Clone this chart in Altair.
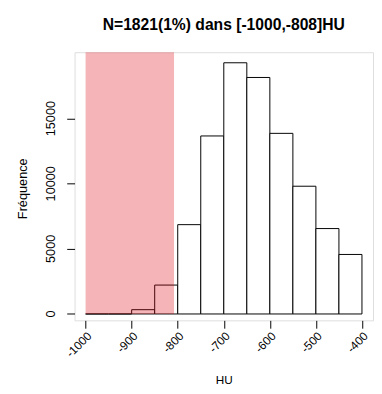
import altair as alt
import pandas as pd

# Histogram bins (HU) and counts
bin_start = [-1000, -950, -900, -850, -800, -750, -700, -650, -600, -550, -500, -450]
bin_end = [-950, -900, -850, -800, -750, -700, -650, -600, -550, -500, -450, -400]
counts = [0, 0, 330, 2220, 6860, 13670, 19290, 18160, 13870, 9810, 6560, 4570]

x_ticks = [-1000, -900, -800, -700, -600, -500, -400]
y_ticks = [0, 5000, 10000, 15000]
y_labels = ["0", "5000", "10000", "15000"]
zone_lo = [-1000]
zone_hi = [-808]
title_text = "N=1821(1%) dans [-1000,-808]HU"

X_DOMAIN = [-1024, -376]
Y_DOMAIN = [-490, 20100]
FONT = "Liberation Sans"

df = pd.DataFrame({"start": bin_start, "end": bin_end, "count": counts})
zdf = pd.DataFrame({"x1": zone_lo, "x2": zone_hi, "y1": [0], "y2": [Y_DOMAIN[1]]})
ldf = pd.DataFrame({"count": y_ticks, "lab": y_labels})

xs = alt.Scale(domain=X_DOMAIN, nice=False, zero=False)
ys = alt.Scale(domain=Y_DOMAIN, nice=False, zero=False)

x_axis = alt.Axis(
    values=x_ticks, labelExpr="'' + datum.value", labelAngle=315, labelAlign="right",
    labelBaseline="top", labelPadding=2, tickSize=8, tickColor="black", domain=False,
    grid=False, labelFont=FONT, labelFontSize=12, labelColor="black", labelOverlap=False,
    title="HU", titleFont=FONT, titleFontSize=12, titleFontWeight="normal", titleColor="black",
    titleY=61, titleBaseline="middle",
)
y_axis = alt.Axis(
    values=y_ticks, labels=False, tickSize=8, tickColor="black", domain=False, grid=False,
    title="Fréquence", titleFont=FONT, titleFontSize=13, titleFontWeight="normal",
    titleColor="black", titleAngle=270, titleX=-46, titleY=139, titleAlign="center",
    titleBaseline="bottom",
)

bars = alt.Chart(df).mark_rect(fill="white", stroke="black", strokeWidth=1).encode(
    x=alt.X("start:Q", scale=xs, axis=x_axis),
    x2="end:Q",
    y=alt.Y("count:Q", scale=ys, axis=y_axis),
    y2=alt.datum(0),
)

zone = alt.Chart(zdf).mark_rect(fill="#DD0812", opacity=0.3).encode(
    x=alt.X("x1:Q", scale=xs),
    x2="x2:Q",
    y=alt.Y("y1:Q", scale=ys),
    y2="y2:Q",
)

ylabels = alt.Chart(ldf).mark_text(
    angle=270, align="center", baseline="middle", font=FONT, fontSize=13, color="black"
).encode(
    x=alt.value(-24),
    y=alt.Y("count:Q", scale=ys),
    text="lab:N",
)

chart = alt.layer(bars, zone, ylabels).properties(
    width=305,
    height=274,
    autosize="none",
    padding={"left": 68, "top": 41, "right": 1, "bottom": 68},
    title=alt.TitleParams(
        title_text, font=FONT, fontSize=16, fontWeight="bold", color="black",
        anchor="middle", frame="group", baseline="alphabetic", offset=7,
    ),
).configure_view(stroke="black", strokeWidth=1).configure(background="white")

chart.save("out.html", embed_options={"renderer": "svg", "actions": False})
